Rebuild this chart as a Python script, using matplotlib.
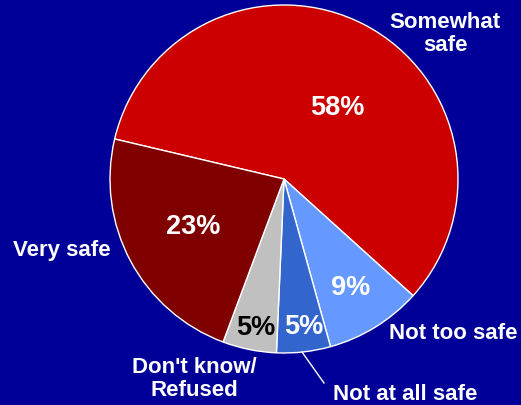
import matplotlib.pyplot as plt

# data
labels = ["Somewhat\nsafe", "Not too safe", "Not at all safe", "Don't know/\nRefused", "Very safe"]
values = [58, 9, 5, 5, 23]
pct_text = ["58%", "9%", "5%", "5%", "23%"]
colors = ["#CC0000", "#6699FF", "#3366CC", "#C0C0C0", "#800000"]
pct_colors = ["white", "white", "white", "black", "white"]

plt.rcParams['font.family'] = ['Liberation Sans', 'DejaVu Sans']

fig = plt.figure(figsize=(5.21, 4.06), dpi=100)
fig.patch.set_facecolor("#000099")
ax = fig.add_axes([0, 0, 1, 1])
ax.set_facecolor("#000099")

# pixel helpers: pie centre at (284, 180) px, radius 174 px
cx, cy, r = 284, 180, 174
def px(x, y):
    return (x - cx) / r, (cy - y) / r

ax.pie(values, colors=colors, startangle=166.7, counterclock=False,
       radius=1, center=(0, 0),
       wedgeprops=dict(edgecolor="white", linewidth=1))

ax.set_xlim((0 - cx) / r, (521 - cx) / r)
ax.set_ylim((cy - 406) / r, cy / r)
ax.set_aspect('auto')
ax.axis('off')

# text positions (pixel coords)
pct_pos = [(337, 108), (351, 288), (304, 327), (256, 328), (193, 227)]
lab_pos = [(445, 34), (453, 334), (405, 395), (194, 379), (62, 251)]

for t, c, p in zip(pct_text, pct_colors, pct_pos):
    ax.text(*px(*p), t, color=c, fontsize=19.5, fontweight='bold',
            ha='center', va='center')

for t, p in zip(labels, lab_pos):
    ax.text(*px(*p), t, color="white", fontsize=16, fontweight='bold',
            ha='center', va='center', linespacing=1.15)

# leader line for "Not at all safe"
x0, y0 = px(302, 353)
x1, y1 = px(324, 384)
ax.plot([x0, x1], [y0, y1], color="white", linewidth=1)

fig.savefig("out.png", dpi=100, facecolor=fig.get_facecolor())
